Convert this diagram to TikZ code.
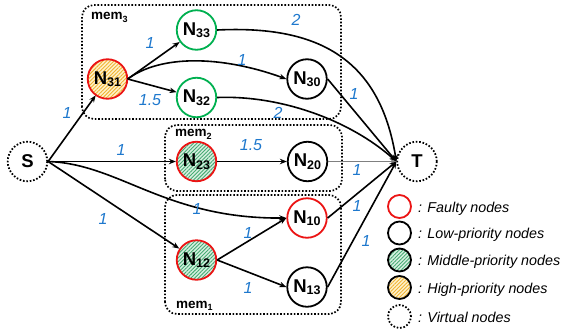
\documentclass[tikz,border=0pt]{standalone}
\usepackage{fontspec}
\setmainfont{Liberation Sans}
\usetikzlibrary{arrows.meta,patterns.meta}

\definecolor{faultred}{RGB}{235,20,20}
\definecolor{midgreen}{RGB}{0,176,80}
\definecolor{hatchgreen}{RGB}{70,170,115}
\definecolor{lightgreen}{RGB}{215,240,225}
\definecolor{hatchorange}{RGB}{240,180,50}
\definecolor{lightorange}{RGB}{255,242,205}
\definecolor{weightblue}{RGB}{30,120,205}

\newcommand\nlab[1]{\textbf{N}\raisebox{-2.5pt}{\fontsize{12.5}{12.5}\selectfont\bfseries #1}}
\newcommand\memlab[1]{\textbf{mem}\raisebox{-2.5pt}{\fontsize{9}{9}\selectfont\bfseries #1}}

\tikzset{
  x=1pt, y=1pt,
  vertex/.style={circle, draw, line width=1.8pt, minimum size=39.5pt, inner sep=0pt,
    font=\fontsize{18.5}{18.5}\selectfont\bfseries},
  faulty/.style={vertex, draw=faultred},
  lowprio/.style={vertex, draw=black},
  watch/.style={vertex, draw=midgreen},
  midhatch/.style={preaction={fill=lightgreen},
    pattern={Lines[angle=45,distance=2.6pt,line width=0.9pt]}, pattern color=hatchgreen},
  highhatch/.style={preaction={fill=lightorange},
    pattern={Lines[angle=45,distance=2.6pt,line width=0.9pt]}, pattern color=hatchorange},
  virtual/.style={vertex, draw=black, dash pattern=on 1.6pt off 1.8pt},
  membox/.style={draw, line width=1.7pt, dash pattern=on 1.6pt off 1.8pt, rounded corners=12pt},
  memtext/.style={anchor=base west, inner sep=0pt, font=\fontsize{13.5}{13.5}\selectfont},
  link/.style={line width=1.6pt, -{Stealth[length=7pt,width=5.5pt]}},
  thinlink/.style={line width=0.8pt, draw=gray, -{Stealth[length=6pt,width=4.5pt]}},
  weight/.style={text=weightblue, inner sep=0pt, font=\fontsize{16}{16}\selectfont\itshape},
  keycircle/.style={circle, line width=1.8pt, minimum size=23pt, inner sep=0pt},
  keytext/.style={anchor=base west, inner sep=0pt, font=\fontsize{14.3}{14.3}\selectfont\itshape},
}

\begin{document}
\begin{tikzpicture}
\useasboundingbox (0,0) rectangle (561,333);

% memory groups
\draw[membox] (82,214) rectangle (341,328);
\draw[membox] (165,142) rectangle (342,208);
\draw[membox] (165,19) rectangle (341,138);
\node[memtext] (m3) at (91,313.5) {\memlab{3}};
\node[memtext] (m2) at (175,196.3) {\memlab{2}};
\node[memtext] (m1) at (176,24.7) {\memlab{1}};

% nodes
\node[virtual] (S) at (27.5,171.5) {S};
\node[virtual] (T) at (417,171.5) {T};
\node[faulty, highhatch] (N31) at (107.5,254) {\nlab{31}};
\node[watch] (N33) at (196.5,303) {\nlab{33}};
\node[watch] (N32) at (196.5,235.5) {\nlab{32}};
\node[lowprio] (N30) at (307,254) {\nlab{30}};
\node[faulty, midhatch] (N23) at (196.5,171.5) {\nlab{23}};
\node[lowprio] (N20) at (307.5,171.5) {\nlab{20}};
\node[faulty] (N10) at (307,115) {\nlab{10}};
\node[faulty, midhatch] (N12) at (196.5,73) {\nlab{12}};
\node[lowprio] (N13) at (307,46) {\nlab{13}};

% connectors
\draw[link] (S.east) -- (N31);
\draw[link] (S.east) -- (N23.west);
\draw[link] (S.east) .. controls (120,169) and (165,114) .. (N10.west);
\draw[link] (S.east) -- (N12);
\draw[link] (N31.east) -- (N33);
\draw[link] (N31.east) -- (N32);
\draw[link] (N31.east) .. controls (160,278) and (220,278) .. (N30.west);
\draw[link] (N33.east) .. controls (320,308) and (380,273) .. (T.west);
\draw[link] (N32.east) .. controls (280,238) and (350,213) .. (T.west);
\draw[link] (N30.east) -- (T.west);
\draw[link] (N23.east) -- (N20.west);
\draw[thinlink] (N20.east) -- (T.west);
\draw[link] (N10.east) -- (T.west);
\draw[link] (N13.east) -- (T.west);
\draw[link] (N12.east) -- (N10.west);
\draw[link] (N12.east) -- (N13.west);

% weights
\node[weight] (wSN31) at (67,220) {1};
\node[weight] (w3133) at (150,290) {1};
\node[weight] (w3132) at (150,233) {1.5};
\node[weight] (w3130) at (242,273) {1};
\node[weight] (w33T) at (296,313) {2};
\node[weight] (w32T) at (278,220) {2};
\node[weight] (w30T) at (354,239) {1};
\node[weight] (wSN23) at (121,183) {1};
\node[weight] (w2320) at (251,188) {1.5};
\node[weight] (w20T) at (357,163) {1};
\node[weight] (wSN10) at (197,124) {1};
\node[weight] (wSN12) at (103,114) {1};
\node[weight] (w1210) at (248,100) {1};
\node[weight] (w1213) at (248,45) {1};
\node[weight] (w10T) at (357,127) {1};
\node[weight] (w13T) at (366,92) {1};

% key
\node[keycircle, draw=faultred] (k1) at (399.5,126.5) {};
\node[keycircle, draw=black] (k2) at (399.5,100) {};
\node[keycircle, draw=black, midhatch] (k3) at (399.5,73) {};
\node[keycircle, draw=black, highhatch] (k4) at (399.5,45.5) {};
\node[keycircle, draw=black, dash pattern=on 1.6pt off 1.8pt] (k5) at (399.5,16.5) {};
\node[keytext] (t1) at (418,121) {: Faulty nodes};
\node[keytext] (t2) at (418,94.5) {: Low-priority nodes};
\node[keytext] (t3) at (418,67.5) {: Middle-priority nodes};
\node[keytext] (t4) at (418,40) {: High-priority nodes};
\node[keytext] (t5) at (418,11) {: Virtual nodes};
\end{tikzpicture}
\end{document}
